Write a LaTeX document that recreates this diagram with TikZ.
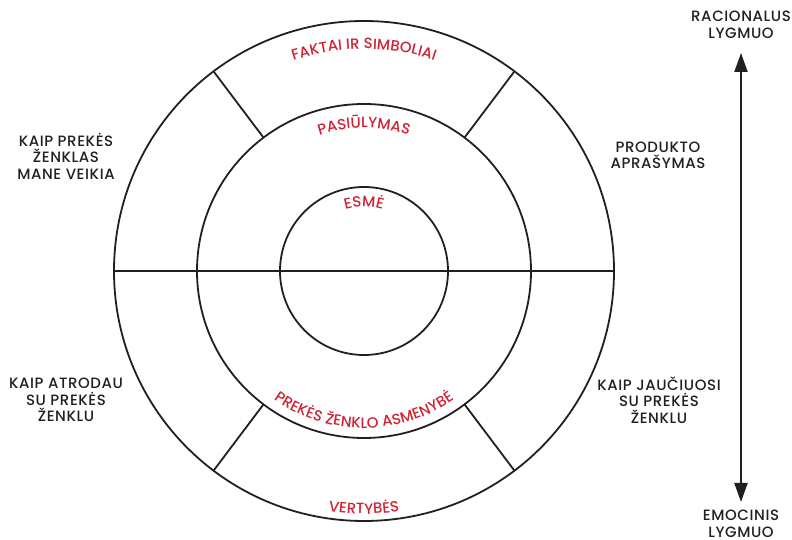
\documentclass[tikz,border=0pt]{standalone}
\usepackage{fontspec}
\setmainfont{Poppins}[UprightFont={* Medium}]
\usetikzlibrary{decorations.text,arrows.meta}
\definecolor{brandred}{RGB}{206,35,52}
\definecolor{ink}{RGB}{35,31,32}
\begin{document}
\begin{tikzpicture}[x=1bp,y=1bp,
  ring/.style={circle,draw=ink,line width=1.8bp,inner sep=0pt,outer sep=0pt,minimum size=#1},
  divider/.style={draw=ink,line width=1.8bp},
  caption/.style={text=ink,font=\fontsize{15}{16.5}\selectfont\addfontfeatures{LetterSpace=4},
    align=center,inner sep=0pt},
  arctext/.style={decorate,decoration={text along path,text align=center,
    text color=brandred,text={|\fontsize{15}{16}\selectfont|#1}}},
  scalearrow/.style={draw=ink,line width=2bp,
    {Triangle[length=19bp,width=13bp]}-{Triangle[length=19bp,width=13bp]}},
]
\useasboundingbox (0,0) rectangle (792,540);

% concentric rings
\begin{scope}[shift={(364,269)}]
  \node[ring=500bp] (outer) at (0,0) {};
  \node[ring=334bp] (middle) at (0,0) {};
  \node[ring=168bp] (inner) at (0,0) {};

  \draw[divider] (outer.west) -- (outer.east);
  \foreach \a in {53,127,233,307}
    \draw[divider] (outer.\a) -- (middle.\a);

  % curved ring titles
  \path[arctext={FAKTAI IR SIMBOLIAI}] (150:222) arc[start angle=150,end angle=30,radius=222];
  \path[arctext={PASIŪLYMAS}] (150:143) arc[start angle=150,end angle=30,radius=143];
  \path[arctext={ESMĖ}] (150:64) arc[start angle=150,end angle=30,radius=64];
  \path[arctext={PREKĖS ŽENKLO ASMENYBĖ}] (200:157) arc[start angle=200,end angle=340,radius=157];
  \path[arctext={VERTYBĖS}] (230:243) arc[start angle=230,end angle=310,radius=243];
\end{scope}

% side captions
\node[caption] (affects) at (66,384) {KAIP PREKĖS\\ŽENKLAS\\MANE VEIKIA};
\node[caption] (product) at (658,384.5) {PRODUKTO\\APRAŠYMAS};
\node[caption] (looks) at (66,140) {KAIP ATRODAU\\SU PREKĖS\\ŽENKLU};
\node[caption] (feels) at (659,140) {KAIP JAUČIUOSI\\SU PREKĖS\\ŽENKLU};

% rational / emotional scale
\node[caption] (rational) at (741,515) {RACIONALUS\\LYGMUO};
\node[caption] (emotional) at (741,16) {EMOCINIS\\LYGMUO};
\coordinate (scaletop) at (741,487);
\coordinate (scalebottom) at (741,38);
\draw[scalearrow] (scaletop) -- (scalebottom);
\end{tikzpicture}
\end{document}
